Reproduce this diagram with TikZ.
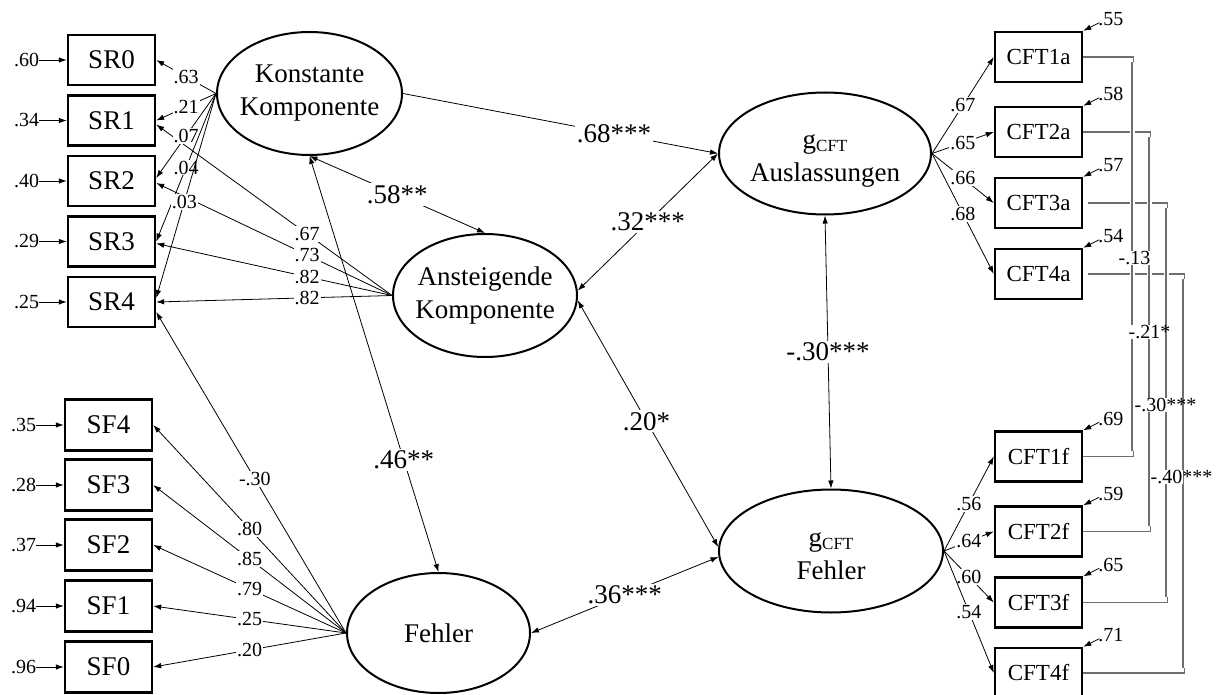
\documentclass[tikz,border=0pt]{standalone}
\usepackage{fontspec}
\setmainfont{Liberation Serif}
\usepackage{xcolor}
\definecolor{covgray}{RGB}{110,110,110}
\usetikzlibrary{arrows.meta,shapes.geometric,calc}
\begin{document}
\begin{tikzpicture}[x=1pt,y=-1pt,
  >={Latex[length=8pt,width=5.5pt]},
  obs/.style={draw, line width=2.4pt, minimum width=87pt, minimum height=50pt, inner sep=0pt, font=\fontsize{27}{30}\selectfont},
  cftbox/.style={obs, font=\fontsize{23}{26}\selectfont},
  lat/.style={draw, ellipse, line width=2pt, inner sep=0pt},
  lattext/.style={align=center, font=\fontsize{27}{33}\selectfont, inner sep=0pt},
  edge/.style={->, line width=0.8pt},
  dedge/.style={<->, line width=0.8pt},
  lab/.style={fill=white, inner sep=1pt, font=\fontsize{20}{22}\selectfont},
  biglab/.style={fill=white, inner sep=2pt, font=\fontsize{27}{30}\selectfont},
  elab/.style={inner sep=0pt, font=\fontsize{20}{22}\selectfont},
  clab/.style={fill=white, inner sep=0.5pt, font=\fontsize{20}{22}\selectfont},
  covl/.style={draw=covgray, line width=1.2pt},
]
\useasboundingbox (0,0) rectangle (1217,695);

% observed boxes left
\node[obs] (SR0) at (111.5,60) {SR0};
\node[obs] (SR1) at (111.5,120.5) {SR1};
\node[obs] (SR2) at (111.5,181) {SR2};
\node[obs] (SR3) at (111.5,241.5) {SR3};
\node[obs] (SR4) at (111.5,302) {SR4};
\node[obs, minimum height=51pt] (SF4) at (108.5,425) {SF4};
\node[obs, minimum height=51pt] (SF3) at (108.5,485) {SF3};
\node[obs, minimum height=51pt] (SF2) at (108.5,545) {SF2};
\node[obs, minimum height=51pt] (SF1) at (108.5,606) {SF1};
\node[obs, minimum height=51pt] (SF0) at (108.5,667) {SF0};

% CFT boxes
\node[cftbox] (CFT1a) at (1038.5,57) {CFT1a};
\node[cftbox] (CFT2a) at (1038.5,132) {CFT2a};
\node[cftbox] (CFT3a) at (1038.5,203) {CFT3a};
\node[cftbox] (CFT4a) at (1038.5,274) {CFT4a};
\node[cftbox] (CFT1f) at (1038.5,456.5) {CFT1f};
\node[cftbox] (CFT2f) at (1038.5,531.5) {CFT2f};
\node[cftbox] (CFT3f) at (1038.5,602.5) {CFT3f};
\node[cftbox] (CFT4f) at (1038.5,673) {CFT4f};

% latent ellipses
\node[lat, minimum width=185pt, minimum height=123pt] (K) at (309.5,93.5) {};
\node[lattext] (Kt) at (K) {Konstante\\Komponente};
\node[lat, minimum width=184pt, minimum height=123pt] (A) at (485,295.5) {};
\node[lattext] (At) at (A) {Ansteigende\\Komponente};
\node[lat, minimum width=183pt, minimum height=120pt] (F) at (438.5,633) {};
\node[lattext] (Ft) at (F) {Fehler};
\node[lat, minimum width=212pt, minimum height=122pt] (GA) at (825,153.5) {};
\node[lattext] (GAt) at ([yshift=-7pt]GA.center) {g\raisebox{-3pt}{\fontsize{17}{17}\selectfont CFT}\\Auslassungen};
\node[lat, minimum width=224pt, minimum height=123pt] (GF) at (831,551) {};
\node[lattext] (GFt) at ([yshift=-5pt]GF.center) {g\raisebox{-3pt}{\fontsize{17}{17}\selectfont CFT}\\Fehler};

% Ansteigende loadings
\draw[edge] (A.west) -- ([yshift=-4pt]SR1.east) node[lab,pos=0.36]{.67};
\draw[edge] (A.west) -- ([yshift=-2pt]SR2.east) node[lab,pos=0.36]{.73};
\draw[edge] (A.west) -- ([yshift=-2pt]SR3.east) node[lab,pos=0.36]{.82};
\draw[edge] (A.west) -- (SR4.east) node[lab,pos=0.36]{.82};

% Konstante loadings
\draw[edge] (K.west) -- (SR0.east) node[lab,pos=0.5]{.63};
\draw[edge] (K.west) -- (SR1.east) node[lab,pos=0.5]{.21};
\draw[edge] (K.west) -- ([yshift=3pt]SR2.east) node[lab,pos=0.5]{.07};
\draw[edge] (K.west) -- (SR3.east) node[lab,pos=0.5]{.04};
\draw[edge] (K.west) -- ([yshift=4pt]SR4.east) node[lab,pos=0.53]{.03};

% Fehler loadings
\draw[edge] (F.west) -- ([yshift=-10pt]SR4.east) node[lab,pos=0.48]{-.30};
\draw[edge] (F.west) -- (SF4.east) node[lab,pos=0.5]{.80};
\draw[edge] (F.west) -- (SF3.east) node[lab,pos=0.5]{.85};
\draw[edge] (F.west) -- (SF2.east) node[lab,pos=0.5]{.79};
\draw[edge] (F.west) -- (SF1.east) node[lab,pos=0.5]{.25};
\draw[edge] (F.west) -- (SF0.east) node[lab,pos=0.5]{.20};

% structural paths
\draw[dedge] (K.south) -- (F.north) node[biglab,pos=0.73]{.46**};
\draw[dedge] (K.south) -- (A.north) node[biglab,pos=0.5]{.58**};
\draw[edge] (K.east) -- (GA.west) node[biglab,pos=0.67]{.68***};
\draw[dedge] (A.3) -- (GA.west) node[biglab,pos=0.5]{.32***};
\draw[dedge] (A.-3) -- (GF.178) node[biglab,pos=0.49]{.20*};
\draw[dedge] (F.east) -- (GF.183) node[biglab,pos=0.5]{.36***};
\draw[dedge] (GA.south) -- (GF.north) node[biglab,pos=0.5]{-.30***};

% CFT loadings
\draw[edge] (GA.east) -- (CFT1a.west) node[lab,pos=0.5]{.67};
\draw[edge] (GA.east) -- (CFT2a.west) node[lab,pos=0.5]{.65};
\draw[edge] (GA.east) -- (CFT3a.west) node[lab,pos=0.5]{.66};
\draw[edge] (GA.east) -- (CFT4a.west) node[lab,pos=0.5]{.68};
\draw[edge] (GF.east) -- (CFT1f.west) node[lab,pos=0.5]{.56};
\draw[edge] (GF.east) -- (CFT2f.west) node[lab,pos=0.5]{.64};
\draw[edge] (GF.east) -- (CFT3f.west) node[lab,pos=0.5]{.60};
\draw[edge] (GF.east) -- (CFT4f.west) node[lab,pos=0.5]{.54};

% error terms left
\foreach \n/\v/\x in {SR0/.60/26.5, SR1/.34/26.5, SR2/.40/26.5, SR3/.29/26.5, SR4/.25/26.5,
                      SF4/.35/23.5, SF3/.28/23.5, SF2/.37/23.5, SF1/.94/23.5, SF0/.96/23.5}{
  \node[elab] (e\n) at (\x,0 |- \n.center) {\v};
  \draw[edge] (e\n.east) -- (\n.west);
}

% error terms right
\foreach \n/\v in {CFT1a/.55, CFT2a/.58, CFT3a/.57, CFT4a/.54, CFT1f/.69, CFT2f/.59, CFT3f/.65, CFT4f/.71}{
  \node[elab, anchor=base west] (e\n) at ([xshift=15pt,yshift=5pt]\n.north east) {\v};
  \draw[edge] ([xshift=1pt,yshift=3pt]e\n.base west) -- (\n.north east);
}

% residual covariances
\draw[covl] (CFT1a.east) -- ++(50,0) |- (CFT1f.east);
\draw[covl] (CFT2a.east) -- ++(67,0) |- (CFT2f.east);
\draw[covl] ([xshift=5pt]CFT3a.east) -- ++(79,0) |- (CFT3f.east);
\draw[covl] ([xshift=5pt]CFT4a.east) -- ++(96,0) |- (CFT4f.east);
\draw[covl, preaction={draw=white, line width=5pt}] (1132,62) -- (1132,451);
\draw[covl, preaction={draw=white, line width=5pt}] (1149,137) -- (1149,526);
\draw[covl, preaction={draw=white, line width=5pt}] (1166,208) -- (1166,597);
\draw[covl, preaction={draw=white, line width=5pt}] (1183,279) -- (1183,668);
\node[clab, anchor=west] (c1) at (1118,258) {-.13};
\node[clab, anchor=west] (c2) at (1128,332) {-.21\rlap{*}};
\node[clab, anchor=west] (c3) at (1134,405) {-.30\rlap{***}};
\node[clab, anchor=west] (c4) at (1150,477) {-.40\rlap{***}};
\end{tikzpicture}
\end{document}
